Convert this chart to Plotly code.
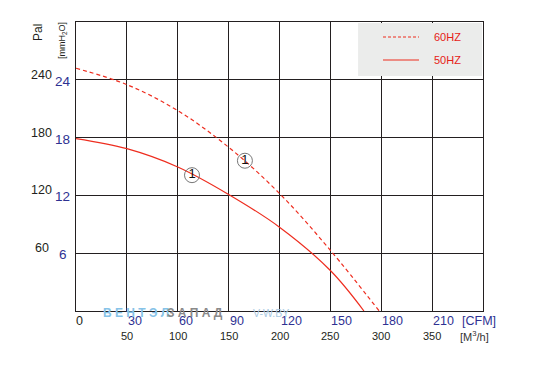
import plotly.graph_objects as go

# ---- data ----
flow_60 = [0, 50, 100, 150, 200, 250, 298]          # m3/h
pa_60 = [252, 235, 208, 170, 122, 63, 0]            # Pa
flow_50 = [0, 50, 100, 150, 200, 250, 283]
pa_50 = [179, 168.5, 149.5, 121, 87, 42, 0]

mark_flow = [114, 166]
mark_pa = [141, 156]
mark_text = ["1", "1"]

pa_ticks = [60, 120, 180, 240]
mm_ticks = [6, 12, 18, 24]
m3h_ticks = [50, 100, 150, 200, 250, 300, 350]
cfm_labels = ["0", "30", "60", "90", "120", "150", "180", "210"]
cfm_pos = [0, 50, 100, 150, 200, 250, 300, 350]

legend_names = ["60HZ", "50HZ"]

RED = "#ee2d1f"
DARK = "#231f20"
BLUE = "#2e3192"
FONT = "Arial, Liberation Sans, sans-serif"

fig = go.Figure()
fig.add_trace(go.Scatter(x=flow_60, y=pa_60, mode="lines", line=dict(color=RED, width=1.2, dash="4px,3px", shape="spline"),
                         showlegend=False, hoverinfo="skip"))
fig.add_trace(go.Scatter(x=flow_50, y=pa_50, mode="lines", line=dict(color=RED, width=1.2, shape="spline"),
                         showlegend=False, hoverinfo="skip"))
fig.add_trace(go.Scatter(x=mark_flow, y=mark_pa, mode="markers+text", text=mark_text, textposition="middle center",
                         textfont=dict(family=FONT, size=13, color="#111"),
                         marker=dict(symbol="circle-open", size=15, color="#777", line=dict(width=1, color="#777")),
                         showlegend=False, hoverinfo="skip"))

ann = []
for p, m in zip(pa_ticks, mm_ticks):
    ann.append(dict(x=0, y=p, xref="x", yref="y", text=str(p), showarrow=False, xanchor="center", yanchor="middle",
                    xshift=-34.5, yshift=5, font=dict(family=FONT, size=12.5, color=DARK)))
    ann.append(dict(x=0, y=p, xref="x", yref="y", text=str(m), showarrow=False, xanchor="center", yanchor="middle",
                    xshift=-13.5, yshift=-1.5, font=dict(family=FONT, size=13.5, color=BLUE)))
for pos, lab in zip(cfm_pos, cfm_labels):
    ann.append(dict(x=pos, y=0, xref="x", yref="y", text=lab, showarrow=False, xanchor="left", yanchor="middle",
                    xshift=-2 if lab == "0" else -1, yshift=-10,
                    font=dict(family=FONT, size=12.5, color=DARK if lab == "0" else BLUE)))
for v in m3h_ticks:
    ann.append(dict(x=v, y=0, xref="x", yref="y", text=str(v), showarrow=False, xanchor="center", yanchor="middle",
                    yshift=-25, font=dict(family=FONT, size=11, color=DARK)))
ann.append(dict(x=400, y=0, xref="x", yref="y", text="[CFM]", showarrow=False, xanchor="left", yanchor="middle",
                xshift=-23, yshift=-10, font=dict(family=FONT, size=12.5, color=BLUE)))
ann.append(dict(x=400, y=0, xref="x", yref="y", text="[M<sup>3</sup>/h]", showarrow=False, xanchor="left", yanchor="middle",
                xshift=-25, yshift=-25, font=dict(family=FONT, size=11, color="#333")))
ann.append(dict(x=0, y=300, xref="x", yref="y", text="Pal", showarrow=False, textangle=-90, xanchor="center", yanchor="middle",
                xshift=-38, yshift=-11, font=dict(family=FONT, size=12, color=DARK)))
ann.append(dict(x=0, y=300, xref="x", yref="y", text="[mmH<sub>2</sub>O]", showarrow=False, textangle=-90, xanchor="center",
                yanchor="middle", xshift=-14, yshift=-19, font=dict(family=FONT, size=9, color=DARK)))
# watermark
ann.append(dict(x=0, y=0, xref="x", yref="y", text="<b>В Е Н Т Э Л</b>", showarrow=False, xanchor="left", yanchor="middle",
                xshift=25, yshift=-2, font=dict(family=FONT, size=12, color="#86c3e8")))
ann.append(dict(x=0, y=0, xref="x", yref="y", text="<b>З А П А Д</b>", showarrow=False, xanchor="left", yanchor="middle",
                xshift=89, yshift=-2, font=dict(family=FONT, size=12, color="#8a8a8a")))
ann.append(dict(x=0, y=0, xref="x", yref="y", text="V-W.BY", showarrow=False, xanchor="left", yanchor="middle",
                xshift=175, yshift=-2, font=dict(family=FONT, size=10.5, color="#a9c9e2")))
# legend text
for name, yy in zip(legend_names, [0.9481, 0.8685]):
    ann.append(dict(x=0.8747, y=yy, xref="paper", yref="paper", text=name, showarrow=False, xanchor="left", yanchor="middle",
                    font=dict(family=FONT, size=11, color="#e62117")))

shapes = [
    dict(type="rect", xref="paper", yref="paper", x0=0.693, x1=0.9975, y0=0.813, y1=0.9965,
         fillcolor="#ebeceb", line=dict(width=0), layer="above"),
    dict(type="line", xref="paper", yref="paper", x0=0.7543, x1=0.8428, y0=0.9481, y1=0.9481,
         line=dict(color=RED, width=1.2, dash="3px,2px"), layer="above"),
    dict(type="line", xref="paper", yref="paper", x0=0.7543, x1=0.8428, y0=0.8685, y1=0.8685,
         line=dict(color=RED, width=1.2), layer="above"),
]

# page body has an 8px margin, so the figure is drawn 8px smaller and offset
fig.update_layout(
    width=543, height=371, margin=dict(l=68, r=68, t=14, b=68),
    paper_bgcolor="white", plot_bgcolor="white",
    annotations=ann, shapes=shapes, showlegend=False,
    xaxis=dict(range=[0, 400], dtick=50, tick0=0, showgrid=True, gridcolor=DARK, gridwidth=1,
               showline=True, mirror=True, linecolor=DARK, linewidth=1.3, showticklabels=False, ticks="", zeroline=False),
    yaxis=dict(range=[0, 300], dtick=60, tick0=0, showgrid=True, gridcolor=DARK, gridwidth=1,
               showline=True, mirror=True, linecolor=DARK, linewidth=1.3, showticklabels=False, ticks="", zeroline=False),
)
fig.write_html("out.html")
